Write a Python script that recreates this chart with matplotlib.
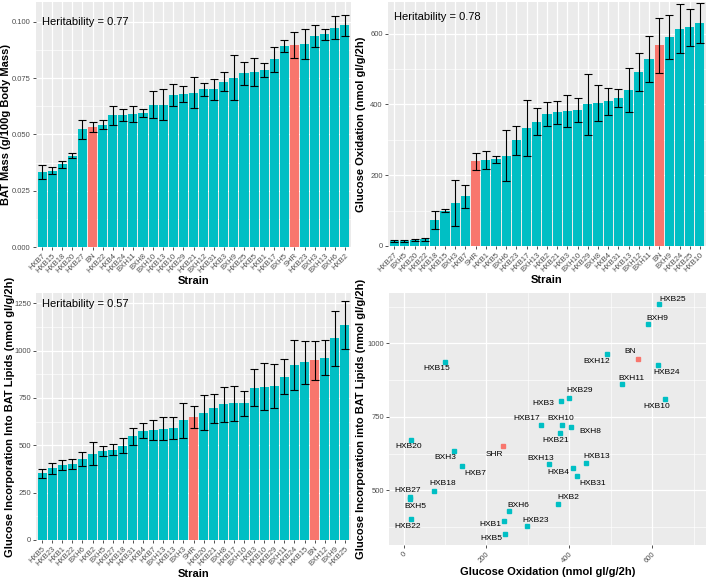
import matplotlib
matplotlib.use("Agg")
import matplotlib.pyplot as plt
import matplotlib.transforms as mtransforms
import numpy as np

plt.rcParams['font.family'] = ['Liberation Sans', 'DejaVu Sans']

TEAL = '#00BFC4'
RED = '#F8766D'
BG = '#EBEBEB'

# ---------------- data ----------------
strains1 = ['HXB7', 'HXB15', 'HXB18', 'HXB20', 'HXB27', 'BN', 'HXB22', 'HXB4', 'HXB24', 'BXH11',
            'BXH8', 'BXH10', 'HXB13', 'HXB10', 'HXB29', 'HXB21', 'BXH12', 'HXB31', 'HXB3', 'BXH9',
            'HXB25', 'HXB5', 'HXB1', 'HXB17', 'BXH5', 'SHR', 'HXB23', 'BXH3', 'BXH13', 'BXH6', 'HXB2']
bat_mass = [0.0332, 0.0339, 0.0367, 0.0405, 0.0522, 0.0533, 0.0544, 0.0584, 0.0587, 0.0592,
            0.0596, 0.0632, 0.0632, 0.0675, 0.0678, 0.0686, 0.0700, 0.0700, 0.0734, 0.0751,
            0.0771, 0.0777, 0.0786, 0.0834, 0.0892, 0.0896, 0.0902, 0.0936, 0.0944, 0.0973, 0.0985]
bat_mass_err = [0.0030, 0.0017, 0.0015, 0.0011, 0.0041, 0.0022, 0.0019, 0.0041, 0.0027, 0.0036,
                0.0018, 0.0060, 0.0069, 0.0051, 0.0036, 0.0069, 0.0030, 0.0048, 0.0041, 0.0100,
                0.0052, 0.0061, 0.0030, 0.0055, 0.0027, 0.0057, 0.0067, 0.0048, 0.0023, 0.0051, 0.0047]

strains2 = ['HXB27', 'BXH5', 'HXB20', 'HXB22', 'HXB18', 'HXB15', 'BXH3', 'HXB7', 'SHR', 'HXB1',
            'HXB5', 'BXH6', 'HXB23', 'HXB17', 'BXH13', 'HXB2', 'HXB21', 'HXB3', 'BXH10', 'HXB29',
            'BXH8', 'HXB4', 'HXB31', 'HXB13', 'BXH12', 'BXH11', 'BN', 'BXH9', 'HXB24', 'HXB25', 'HXB10']
gluc_ox = [15, 15, 17, 19, 74, 100, 121, 140, 239, 243,
           245, 255, 298, 333, 351, 374, 377, 381, 383, 400,
           405, 409, 418, 441, 491, 528, 567, 591, 614, 617, 630]
gluc_ox_err = [3, 3, 4, 5, 26, 5, 64, 33, 25, 25,
               10, 72, 40, 78, 38, 34, 32, 46, 34, 86,
               51, 38, 25, 62, 54, 65, 78, 62, 68, 52, 56]

strains3 = ['HXB5', 'HXB23', 'HXB1', 'HXB22', 'BXH6', 'HXB2', 'BXH5', 'HXB27', 'HXB18', 'HXB31',
            'HXB4', 'HXB7', 'BXH13', 'HXB13', 'BXH3', 'SHR', 'HXB20', 'HXB21', 'BXH8', 'HXB17',
            'BXH10', 'HXB3', 'HXB10', 'HXB29', 'BXH11', 'HXB24', 'HXB15', 'BN', 'BXH12', 'BXH9', 'HXB25']
gluc_inc = [352, 378, 396, 401, 428, 455, 470, 477, 498, 547,
            576, 581, 588, 592, 632, 650, 672, 695, 716, 721,
            722, 805, 810, 814, 861, 925, 938, 948, 963, 1064, 1135]
gluc_inc_err = [25, 30, 25, 25, 35, 60, 25, 30, 40, 45,
                40, 55, 60, 60, 92, 58, 92, 76, 94, 94,
                66, 97, 123, 116, 92, 133, 113, 103, 94, 146, 127]

heritability = ['0.77', '0.78', '0.57']

# label offsets for scatter (pixels: dx right, dy down) - styling only
label_offsets = {
    'HXB25': (14, -4), 'BXH9': (9, -6), 'BN': (-8, -7), 'BXH12': (-10, 7), 'HXB24': (9, 7),
    'HXB15': (-8, 7), 'BXH11': (9, -6), 'HXB10': (-8, 7), 'HXB29': (10, -7), 'HXB3': (-18, 3),
    'HXB17': (-15, -7), 'BXH10': (-1, -7), 'BXH8': (19, 5), 'HXB21': (-4, 8), 'HXB20': (-2, 7),
    'SHR': (-8, 8), 'BXH3': (-8, 6), 'HXB7': (14, 7), 'BXH13': (-8, -6), 'HXB13': (10, -7),
    'HXB4': (-15, 5), 'HXB31': (16, 7), 'HXB18': (9, -7), 'HXB27': (-2, -7), 'BXH5': (6, 7),
    'HXB2': (10, -6), 'BXH6': (9, -6), 'HXB23': (9, -6), 'HXB1': (-14, 4), 'HXB22': (-4, 7),
    'HXB5': (-14, 5),
}

# ---------------- figure ----------------
W, H = 708, 579
fig = plt.figure(figsize=(W / 100, H / 100), dpi=100)

def axes_px(l, t, r, b):
    return fig.add_axes([l / W, 1 - b / H, (r - l) / W, (b - t) / H])

def style(ax):
    ax.set_facecolor(BG)
    for s in ax.spines.values():
        s.set_visible(False)
    ax.grid(True, which='major', color='white', lw=0.9, zorder=0)
    ax.grid(True, which='minor', color='white', lw=0.45, zorder=0)
    ax.set_axisbelow(True)
    ax.tick_params(axis='both', which='major', length=2.2, width=0.6, color='#333333',
                   labelsize=5.5, labelcolor='#4D4D4D', pad=1.5)
    ax.tick_params(axis='both', which='minor', length=0)

def bar_panel(ax, strains, vals, errs, ylim, yticks, yminor, ylabel, yfmt, her, her_y, ylab_x):
    style(ax)
    n = len(strains)
    x = np.arange(n)
    cols = [RED if s in ('SHR', 'BN') else TEAL for s in strains]
    ax.bar(x, vals, width=0.9, color=cols, zorder=2)
    ax.errorbar(x, vals, yerr=errs, fmt='none', ecolor='black', elinewidth=0.8,
                capsize=2.6, capthick=0.8, zorder=3)
    ax.set_xlim(-0.6, n - 0.4)
    ax.set_ylim(*ylim)
    ax.set_xticks(x)
    ax.set_xticklabels(strains, rotation=45, ha='right', rotation_mode='anchor')
    ax.set_yticks(yticks)
    ax.set_yticklabels([yfmt.format(v) for v in yticks])
    ax.set_yticks(yminor, minor=True)
    ax.xaxis.grid(True, which='major', color='white', lw=0.9)
    ax.set_xlabel('Strain', fontsize=8, fontweight='bold', labelpad=1)
    ax.set_ylabel(ylabel, fontsize=8, fontweight='bold')
    ax.yaxis.set_label_coords(ylab_x, 0.5)
    trans = mtransforms.blended_transform_factory(ax.transAxes, ax.transData)
    ax.text(0.018, her_y, 'Heritability = ' + her, transform=trans, fontsize=8,
            ha='left', va='center', color='black', zorder=4)

# Panel 1
ax1 = axes_px(36, 2, 351, 247)
bar_panel(ax1, strains1, bat_mass, bat_mass_err, (0, 0.1088),
          [0.0, 0.025, 0.05, 0.075, 0.1], [0.0125, 0.0375, 0.0625, 0.0875],
          'BAT Mass (g/100g Body Mass)', '{:.3f}', heritability[0], 0.100, -0.080)

# Panel 2
ax2 = axes_px(388, 2, 706, 246)
bar_panel(ax2, strains2, gluc_ox, gluc_ox_err, (0, 689),
          [0, 200, 400, 600], [100, 300, 500],
          'Glucose Oxidation (nmol gl/g/2h)', '{:d}', heritability[1], 646, -0.068)

# Panel 3
ax3 = axes_px(36, 293, 351, 540)
bar_panel(ax3, strains3, gluc_inc, gluc_inc_err, (0, 1304),
          [0, 250, 500, 750, 1000, 1250], [125, 375, 625, 875, 1125],
          'Glucose Incorporation Into BAT Lipids (nmol gl/g/2h)', '{:d}', heritability[2], 1245,
          -0.068)

# Panel 4 scatter
ax4 = axes_px(389, 293, 706, 545)
style(ax4)
ox_map = dict(zip(strains2, gluc_ox))
inc_map = dict(zip(strains3, gluc_inc))
for s in strains3:
    xv, yv = ox_map[s], inc_map[s]
    c = RED if s in ('SHR', 'BN') else TEAL
    ax4.plot([xv], [yv], marker='s', ms=2.8, color=c, ls='none', zorder=3)
    dx, dy = label_offsets[s]
    ax4.annotate(s, (xv, yv), xytext=(dx * 0.72, -dy * 0.72), textcoords='offset points',
                 ha='center', va='center', fontsize=6, color='black', zorder=4)
ax4.set_xlim(-35, 730)
ax4.set_ylim(314, 1171)
ax4.set_xticks([0, 200, 400, 600])
ax4.set_xticks([100, 300, 500, 700], minor=True)
ax4.set_xticklabels(['0', '200', '400', '600'], rotation=45, ha='right', rotation_mode='anchor')
ax4.set_yticks([500, 750, 1000])
ax4.set_yticks([375, 625, 875, 1125], minor=True)
ax4.set_xlabel('Glucose Oxidation (nmol gl/g/2h)', fontsize=8, fontweight='bold', labelpad=2)
ax4.set_ylabel('Glucose Incorporation into BAT Lipids (nmol gl/g/2h)', fontsize=8,
               fontweight='bold')
ax4.yaxis.set_label_coords(-0.072, 0.5)

fig.savefig('out.png', dpi=100)
